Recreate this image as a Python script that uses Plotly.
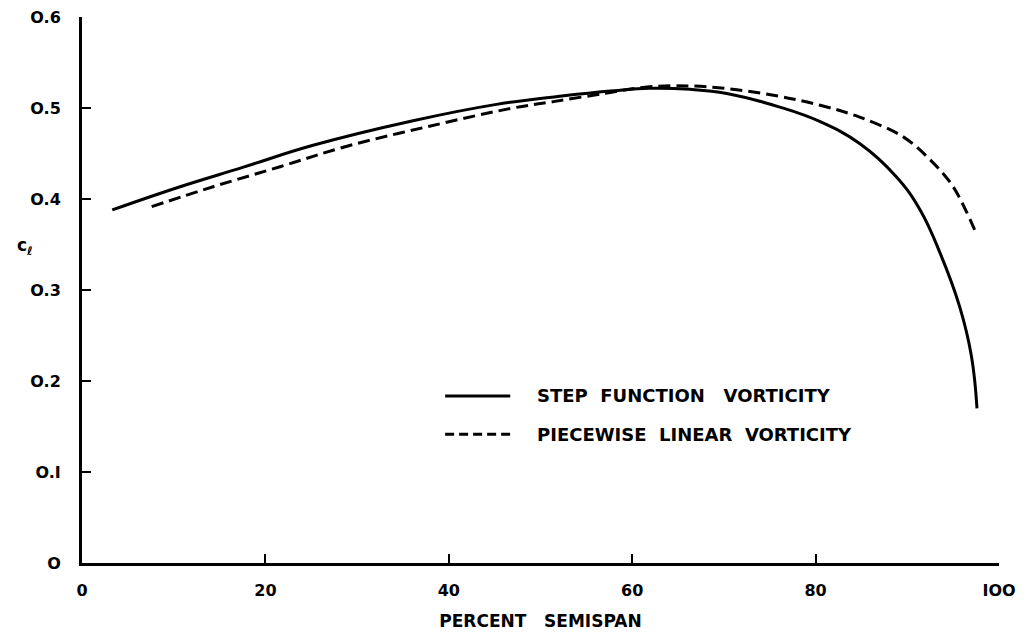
import plotly.graph_objects as go

# Data
step_x = [3.3, 10.7, 17.6, 25.2, 36.1, 45.2, 52.1, 58.0, 61.9, 66.3, 70.3, 76.1, 80.5, 84.8, 88.8, 91.4, 93.6, 95.7, 97.0, 97.6]
step_y = [0.388, 0.4135, 0.435, 0.459, 0.486, 0.504, 0.513, 0.519, 0.5216, 0.5205, 0.516, 0.501, 0.485, 0.461, 0.4245, 0.388, 0.340, 0.282, 0.227, 0.170]

lin_x = [7.6, 14.3, 21.6, 28.9, 37.9, 47.0, 51.4, 57.0, 61.9, 68.1, 75.4, 80.5, 84.8, 89.6, 92.5, 95.0, 97.6]
lin_y = [0.3916, 0.4135, 0.4355, 0.458, 0.480, 0.500, 0.507, 0.516, 0.5234, 0.5234, 0.514, 0.503, 0.490, 0.468, 0.443, 0.4135, 0.360]

x_ticks = [0, 20, 40, 60, 80, 100]
x_tick_text = ["0", "20", "40", "60", "80", "IOO"]
y_ticks = [0, 0.1, 0.2, 0.3, 0.4, 0.5, 0.6]
y_tick_text = ["O", "O.I", "O.2", "O.3", "O.4", "O.5", "O.6"]

series_names = ["STEP  FUNCTION   VORTICITY", "PIECEWISE  LINEAR  VORTICITY"]

FONT = "DejaVu Sans"

fig = go.Figure()
fig.add_trace(go.Scatter(x=step_x, y=step_y, mode="lines",
                         line=dict(color="black", width=3, shape="spline", smoothing=1.2),
                         name=series_names[0], showlegend=False))
fig.add_trace(go.Scatter(x=lin_x, y=lin_y, mode="lines",
                         line=dict(color="black", width=3, shape="spline", smoothing=1.0, dash="12px,6px"),
                         name=series_names[1], showlegend=False))

# legend drawn by hand
leg_x0, leg_x1, leg_tx = 0.396, 0.467, 0.494
leg_rows = [0.306, 0.236]
dashes = ["solid", "9px,5px"]
for yy, d, name in zip(leg_rows, dashes, series_names):
    fig.add_shape(type="line", xref="paper", yref="paper", x0=leg_x0, x1=leg_x1, y0=yy, y1=yy,
                  line=dict(color="black", width=3, dash=d))
    fig.add_annotation(xref="paper", yref="paper", x=leg_tx, y=yy, xanchor="left", yanchor="middle",
                       text="<b>" + name + "</b>", showarrow=False,
                       font=dict(family=FONT, size=18, color="black"))

fig.add_annotation(xref="paper", yref="paper", x=-0.062, y=0.58, xanchor="center", yanchor="middle",
                   text="<b>c<sub>ℓ</sub></b>", showarrow=False,
                   font=dict(family=FONT, size=17, color="black"))

fig.update_layout(
    width=1028, height=636,
    margin=dict(l=82, r=29, t=17, b=73),
    paper_bgcolor="white", plot_bgcolor="white",
    font=dict(family=FONT, size=16, color="black"),
    showlegend=False,
)
fig.update_xaxes(range=[0, 100], tickvals=x_ticks, ticktext=["<b>%s</b>" % t for t in x_tick_text],
                 showgrid=False, zeroline=False, showline=True, linecolor="black", linewidth=3,
                 ticks="inside", ticklen=9, tickwidth=2, tickcolor="black",
                 ticklabelstandoff=11, automargin=False,
                 title=dict(text="<b>PERCENT   SEMISPAN</b>", font=dict(family=FONT, size=17), standoff=16))
fig.update_yaxes(range=[0, 0.6], tickvals=y_ticks, ticktext=["<b>%s</b>" % t for t in y_tick_text],
                 showgrid=False, zeroline=False, showline=True, linecolor="black", linewidth=3,
                 ticks="inside", ticklen=9, tickwidth=2, tickcolor="black",
                 ticklabelstandoff=15, automargin=False)

fig.write_html("out.html")
